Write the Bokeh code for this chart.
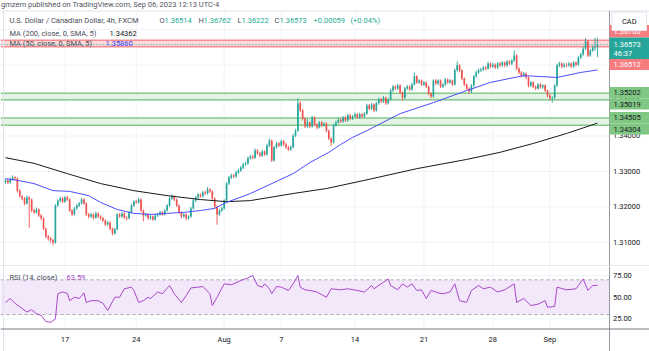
from bokeh.plotting import figure
from bokeh.layouts import column
from bokeh.models import ColumnDataSource, Range1d
from bokeh.embed import file_html
from bokeh.resources import INLINE
from bokeh.core.properties import value

# ---------------- data (USD/CAD, 4h bars, FXCM) ----------------
first_open = 1.3270
closes = [
    1.3275, 1.3269, 1.3277, 1.3283, 1.3280, 1.3246, 1.3230, 1.3224, 1.3210, 1.3227,
    1.3221, 1.3190, 1.3185, 1.3193, 1.3176, 1.3168, 1.3139, 1.3117, 1.3111, 1.3106,
    1.3100, 1.3204, 1.3218, 1.3224, 1.3215, 1.3227, 1.3221, 1.3190, 1.3179, 1.3196,
    1.3204, 1.3210, 1.3221, 1.3210, 1.3179, 1.3173, 1.3179, 1.3170, 1.3182, 1.3173,
    1.3168, 1.3162, 1.3151, 1.3156, 1.3139, 1.3125, 1.3137, 1.3179, 1.3173, 1.3182,
    1.3170, 1.3168, 1.3185, 1.3204, 1.3215, 1.3213, 1.3221, 1.3190, 1.3176, 1.3179,
    1.3168, 1.3173, 1.3165, 1.3176, 1.3179, 1.3185, 1.3179, 1.3190, 1.3204, 1.3224,
    1.3230, 1.3221, 1.3204, 1.3185, 1.3173, 1.3179, 1.3168, 1.3173, 1.3196, 1.3218,
    1.3227, 1.3235, 1.3230, 1.3241, 1.3238, 1.3249, 1.3244, 1.3224, 1.3201, 1.3179,
    1.3190, 1.3196, 1.3218, 1.3266, 1.3283, 1.3289, 1.3286, 1.3297, 1.3303, 1.3311,
    1.3320, 1.3323, 1.3337, 1.3342, 1.3339, 1.3359, 1.3351, 1.3345, 1.3356, 1.3348,
    1.3373, 1.3387, 1.3331, 1.3368, 1.3379, 1.3373, 1.3385, 1.3376, 1.3368, 1.3362,
    1.3368, 1.3401, 1.3415, 1.3492, 1.3472, 1.3449, 1.3427, 1.3438, 1.3427, 1.3452,
    1.3432, 1.3424, 1.3438, 1.3430, 1.3435, 1.3415, 1.3393, 1.3382, 1.3430, 1.3438,
    1.3446, 1.3441, 1.3452, 1.3444, 1.3458, 1.3449, 1.3455, 1.3461, 1.3452, 1.3461,
    1.3455, 1.3463, 1.3486, 1.3477, 1.3489, 1.3472, 1.3492, 1.3503, 1.3497, 1.3508,
    1.3492, 1.3503, 1.3528, 1.3539, 1.3534, 1.3542, 1.3523, 1.3508, 1.3534, 1.3539,
    1.3531, 1.3545, 1.3568, 1.3551, 1.3556, 1.3545, 1.3551, 1.3539, 1.3520, 1.3511,
    1.3556, 1.3548, 1.3556, 1.3539, 1.3545, 1.3559, 1.3551, 1.3556, 1.3545, 1.3585,
    1.3599, 1.3585, 1.3562, 1.3545, 1.3534, 1.3525, 1.3542, 1.3568, 1.3579, 1.3585,
    1.3587, 1.3593, 1.3590, 1.3604, 1.3596, 1.3601, 1.3593, 1.3604, 1.3599, 1.3607,
    1.3599, 1.3610, 1.3604, 1.3613, 1.3627, 1.3590, 1.3579, 1.3570, 1.3576, 1.3565,
    1.3542, 1.3551, 1.3539, 1.3534, 1.3545, 1.3537, 1.3542, 1.3528, 1.3514, 1.3506,
    1.3508, 1.3542, 1.3599, 1.3604, 1.3596, 1.3601, 1.3599, 1.3604, 1.3596, 1.3607,
    1.3601, 1.3621, 1.3630, 1.3646, 1.3666, 1.3627, 1.3641, 1.3649, 1.36514, 1.36573,
]
highs = [
    1.3280, 1.3279, 1.3283, 1.3289, 1.3287, 1.3284, 1.3250, 1.3234, 1.3228, 1.3232,
    1.3230, 1.3224, 1.3195, 1.3198, 1.3196, 1.3180, 1.3171, 1.3142, 1.3121, 1.3116,
    1.3110, 1.3208, 1.3222, 1.3229, 1.3228, 1.3231, 1.3232, 1.3224, 1.3194, 1.3200,
    1.3208, 1.3214, 1.3226, 1.3225, 1.3213, 1.3183, 1.3184, 1.3182, 1.3187, 1.3185,
    1.3177, 1.3172, 1.3165, 1.3160, 1.3159, 1.3142, 1.3141, 1.3183, 1.3183, 1.3186,
    1.3185, 1.3174, 1.3189, 1.3208, 1.3219, 1.3220, 1.3226, 1.3224, 1.3193, 1.3183,
    1.3182, 1.3177, 1.3176, 1.3180, 1.3183, 1.3189, 1.3188, 1.3194, 1.3208, 1.3229,
    1.3236, 1.3233, 1.3224, 1.3207, 1.3188, 1.3183, 1.3182, 1.3177, 1.3200, 1.3222,
    1.3231, 1.3239, 1.3238, 1.3245, 1.3246, 1.3256, 1.3253, 1.3247, 1.3227, 1.3204,
    1.3194, 1.3200, 1.3222, 1.3270, 1.3288, 1.3294, 1.3293, 1.3302, 1.3308, 1.3316,
    1.3325, 1.3328, 1.3342, 1.3347, 1.3346, 1.3365, 1.3363, 1.3355, 1.3361, 1.3360,
    1.3378, 1.3393, 1.3390, 1.3372, 1.3384, 1.3383, 1.3390, 1.3389, 1.3380, 1.3372,
    1.3373, 1.3406, 1.3420, 1.3506, 1.3498, 1.3476, 1.3452, 1.3448, 1.3441, 1.3457,
    1.3455, 1.3436, 1.3442, 1.3442, 1.3439, 1.3438, 1.3418, 1.3396, 1.3435, 1.3443,
    1.3451, 1.3450, 1.3456, 1.3456, 1.3463, 1.3462, 1.3459, 1.3466, 1.3465, 1.3466,
    1.3465, 1.3467, 1.3491, 1.3490, 1.3494, 1.3492, 1.3497, 1.3508, 1.3507, 1.3513,
    1.3511, 1.3507, 1.3533, 1.3544, 1.3543, 1.3547, 1.3546, 1.3526, 1.3538, 1.3544,
    1.3543, 1.3550, 1.3578, 1.3571, 1.3560, 1.3559, 1.3555, 1.3554, 1.3542, 1.3523,
    1.3560, 1.3560, 1.3560, 1.3559, 1.3549, 1.3563, 1.3562, 1.3560, 1.3559, 1.3590,
    1.3610, 1.3602, 1.3588, 1.3565, 1.3548, 1.3537, 1.3546, 1.3572, 1.3584, 1.3590,
    1.3592, 1.3598, 1.3597, 1.3609, 1.3607, 1.3606, 1.3605, 1.3608, 1.3608, 1.3611,
    1.3610, 1.3614, 1.3613, 1.3617, 1.3641, 1.3631, 1.3593, 1.3583, 1.3580, 1.3579,
    1.3568, 1.3555, 1.3554, 1.3543, 1.3549, 1.3549, 1.3546, 1.3545, 1.3531, 1.3518,
    1.3512, 1.3546, 1.3604, 1.3609, 1.3608, 1.3606, 1.3605, 1.3608, 1.3607, 1.3611,
    1.3610, 1.3625, 1.3634, 1.3651, 1.3676, 1.3669, 1.3645, 1.3655, 1.3677, 1.36762,
]
lows = [
    1.3266, 1.3265, 1.3266, 1.3274, 1.3276, 1.3241, 1.3226, 1.3219, 1.3205, 1.3207,
    1.3142, 1.3185, 1.3180, 1.3181, 1.3172, 1.3163, 1.3135, 1.3112, 1.3105, 1.3100,
    1.3092, 1.3097, 1.3200, 1.3213, 1.3211, 1.3212, 1.3217, 1.3186, 1.3174, 1.3176,
    1.3192, 1.3200, 1.3207, 1.3206, 1.3175, 1.3168, 1.3169, 1.3165, 1.3167, 1.3169,
    1.3163, 1.3158, 1.3146, 1.3147, 1.3134, 1.3120, 1.3122, 1.3134, 1.3169, 1.3170,
    1.3166, 1.3162, 1.3165, 1.3182, 1.3200, 1.3209, 1.3210, 1.3186, 1.3160, 1.3172,
    1.3164, 1.3164, 1.3161, 1.3162, 1.3172, 1.3176, 1.3175, 1.3176, 1.3187, 1.3201,
    1.3220, 1.3217, 1.3200, 1.3181, 1.3168, 1.3170, 1.3163, 1.3164, 1.3170, 1.3193,
    1.3214, 1.3223, 1.3226, 1.3227, 1.3234, 1.3235, 1.3240, 1.3220, 1.3197, 1.3150,
    1.3175, 1.3186, 1.3193, 1.3215, 1.3262, 1.3279, 1.3281, 1.3282, 1.3293, 1.3299,
    1.3307, 1.3316, 1.3319, 1.3333, 1.3334, 1.3335, 1.3347, 1.3340, 1.3341, 1.3344,
    1.3345, 1.3369, 1.3327, 1.3328, 1.3364, 1.3369, 1.3370, 1.3372, 1.3364, 1.3358,
    1.3358, 1.3365, 1.3397, 1.3412, 1.3467, 1.3444, 1.3422, 1.3423, 1.3422, 1.3424,
    1.3428, 1.3419, 1.3421, 1.3425, 1.3426, 1.3410, 1.3388, 1.3372, 1.3379, 1.3426,
    1.3434, 1.3437, 1.3437, 1.3440, 1.3440, 1.3445, 1.3445, 1.3451, 1.3448, 1.3448,
    1.3451, 1.3451, 1.3460, 1.3472, 1.3473, 1.3467, 1.3469, 1.3488, 1.3493, 1.3493,
    1.3487, 1.3489, 1.3500, 1.3524, 1.3530, 1.3530, 1.3518, 1.3500, 1.3505, 1.3530,
    1.3527, 1.3528, 1.3542, 1.3547, 1.3547, 1.3541, 1.3541, 1.3535, 1.3515, 1.3506,
    1.3508, 1.3544, 1.3544, 1.3535, 1.3535, 1.3541, 1.3547, 1.3547, 1.3541, 1.3542,
    1.3581, 1.3580, 1.3557, 1.3540, 1.3529, 1.3520, 1.3521, 1.3539, 1.3564, 1.3575,
    1.3580, 1.3583, 1.3585, 1.3586, 1.3591, 1.3592, 1.3589, 1.3589, 1.3594, 1.3595,
    1.3594, 1.3595, 1.3600, 1.3600, 1.3609, 1.3585, 1.3574, 1.3565, 1.3566, 1.3560,
    1.3537, 1.3538, 1.3535, 1.3529, 1.3530, 1.3533, 1.3533, 1.3524, 1.3509, 1.3500,
    1.3494, 1.3504, 1.3538, 1.3594, 1.3591, 1.3592, 1.3594, 1.3595, 1.3592, 1.3592,
    1.3597, 1.3598, 1.3617, 1.3626, 1.3642, 1.3622, 1.3623, 1.3637, 1.3640, 1.36222,
]

ma200_bars = [0, 12, 26, 40, 54, 68, 82, 93, 103, 121, 135, 151, 173, 194, 208, 222, 236, 249]
ma200_vals = [1.3339, 1.3323, 1.3294, 1.3266, 1.3246, 1.3232, 1.3221, 1.3215, 1.3218,
              1.3238, 1.3252, 1.3275, 1.3308, 1.3334, 1.3354, 1.3379, 1.3407, 1.34362]

ma50_bars = [0, 5, 12, 20, 27, 35, 40, 47, 54, 61, 68, 75, 82, 88, 93, 103, 113, 121,
             128, 136, 141, 146, 152, 166, 180, 194, 204, 218, 232, 242, 249]
ma50_vals = [1.3280, 1.3275, 1.3266, 1.3246, 1.3244, 1.3232, 1.3213, 1.3193, 1.3182,
             1.3179, 1.3182, 1.3185, 1.3190, 1.3196, 1.3213, 1.3238, 1.3269, 1.3294,
             1.3325, 1.3354, 1.3376, 1.3396, 1.3415, 1.3463, 1.3494, 1.3528, 1.3551,
             1.3570, 1.3565, 1.3579, 1.35860]

rsi_bars = [0, 2, 4, 7, 9, 11, 13, 15, 17, 19, 21, 22, 24, 26, 27, 29, 31, 33, 34, 36,
            39, 41, 43, 46, 48, 50, 53, 54, 56, 58, 60, 61, 64, 66, 69, 71, 74, 76, 78, 81,
            83, 86, 87, 89, 92, 95, 99, 102, 104, 106, 108, 109, 111, 112, 114, 116, 119, 121, 123, 124,
            126, 128, 131, 135, 137, 141, 144, 148, 151, 154, 155, 159, 161, 162, 165, 167, 169, 171, 173, 175,
            177, 179, 182, 184, 187, 189, 191, 194, 196, 199, 201, 204, 207, 210, 214, 215, 218, 221, 224, 227,
            228, 231, 232, 236, 240, 241, 243, 245, 247, 249]
rsi_vals = [44, 48.5, 43, 37, 33, 35.5, 31, 29, 22, 21, 25, 54, 56, 54.5, 46, 50, 48.5, 55, 44, 46,
            46, 43, 34.6, 50, 50, 59.7, 61.6, 57.8, 44, 46, 50, 48.5, 56, 54, 63.5, 54, 44, 51.8, 60.7, 61.6,
            62.3, 54, 40.4, 50, 65.4, 64.3, 69.2, 72.3, 75, 63.5, 61.6, 65.4, 59.7, 54, 62.3, 61.6, 57.8, 65.4, 75, 61.6,
            58.5, 57.8, 56, 50, 59.7, 58.5, 59.7, 57.8, 56, 63.5, 59.7, 67.3, 71, 63.5, 58.5, 65.4, 61.6, 65.4, 57.8, 58.5,
            48.5, 57.8, 55, 54, 56, 65.4, 46, 44, 57.8, 63.5, 59.7, 61.6, 56, 58.5, 65.4, 44, 48.5, 40.4, 42, 46,
            38.5, 39.2, 61.6, 58.5, 59.7, 63.5, 71, 57.8, 63.5, 63.59]

red_zone = (1.36512, 1.36700)
green_zones = [(1.35019, 1.35202), (1.34304, 1.34505)]

price_ticks = [1.31, 1.32, 1.33, 1.34, 1.35, 1.36]
price_grid = [1.31, 1.32, 1.33, 1.34, 1.35, 1.36, 1.37]
rsi_ticks = [75, 50, 25]
rsi_band = (30, 70)
date_tick_bars = [25, 55, 92, 116, 147, 176, 205, 229]
date_tick_labels = ["17", "24", "Aug", "7", "14", "21", "28", "Sep"]

# ---------------- layout helpers (pixel -> data) ----------------
W, H1, H2 = 649, 266, 85
X0, X1 = -2.1, 270.9
PY_TOP, PY_BOT = 1.378169, 1.303239
RY_TOP, RY_BOT = 85.4, -12.6


def xd(px):
    return X0 + px * (X1 - X0) / W


def yd(py):
    return PY_TOP - py * (PY_TOP - PY_BOT) / H1


def rd(py):
    return RY_TOP - (py - H1) * (RY_TOP - RY_BOT) / H2


AXIS_X = xd(609)
FONT = value("Roboto")
UP, DOWN = "#26a69a", "#ef5350"
TXT, LBL = "#131722", "#4a4e59"
GRID = "#f0f3fa"


def add_texts(p, xs, ys, texts, colors, size="7.5px", align="left"):
    src = ColumnDataSource(dict(x=xs, y=ys, text=texts, color=colors))
    p.text(x="x", y="y", text="text", text_color="color", source=src,
           text_font=FONT, text_font_size=size, text_align=align,
           text_baseline="middle")


def mkfig(h, yr):
    f = figure(width=W, height=h, x_range=Range1d(X0, X1), y_range=yr,
               output_backend="svg", toolbar_location=None, min_border=0,
               x_axis_type=None, y_axis_type=None)
    f.outline_line_color = None
    f.background_fill_color = "white"
    f.border_fill_color = "white"
    return f


# ---------------- main price panel ----------------
p1 = mkfig(H1, Range1d(PY_BOT, PY_TOP))

p1.segment(x0=date_tick_bars, y0=yd(10.5), x1=date_tick_bars, y1=yd(266), color=GRID, line_width=1)
p1.segment(x0=X0, y0=price_grid, x1=AXIS_X, y1=price_grid, color=GRID, line_width=1)

for lo, hi in green_zones:
    p1.quad(left=X0, right=AXIS_X, bottom=lo, top=hi, fill_color="#e6f4e7", line_color=None)
    p1.segment(x0=X0, y0=[lo, hi], x1=AXIS_X, y1=[lo, hi], color="#86c98b", line_width=1.5)
p1.quad(left=X0, right=AXIS_X, bottom=red_zone[0], top=red_zone[1], fill_color="#fadada", line_color=None)
p1.segment(x0=X0, y0=list(red_zone), x1=AXIS_X, y1=list(red_zone), color="#f58d90", line_width=1.5)

idx = list(range(len(closes)))
opens = [first_open] + closes[:-1]
col = [UP if c >= o else DOWN for o, c in zip(opens, closes)]
csrc = ColumnDataSource(dict(
    i=idx, high=highs, low=lows,
    top=[max(o, c) for o, c in zip(opens, closes)],
    bottom=[min(o, c) for o, c in zip(opens, closes)],
    color=col))
p1.segment(x0="i", y0="low", x1="i", y1="high", color="color", line_width=0.9, source=csrc)
p1.vbar(x="i", width=0.7, top="top", bottom="bottom", fill_color="color", line_color=None, source=csrc)

p1.line(ma200_bars, ma200_vals, color="#1a1a1a", line_width=1)
p1.line(ma50_bars, ma50_vals, color="#4c4cff", line_width=1)

last = closes[-1]
p1.segment(x0=X0, y0=last, x1=AXIS_X, y1=last, color=UP, line_width=1, line_dash="1 2")

# frame lines
p1.segment(x0=X0, y0=yd(10.5), x1=X1, y1=yd(10.5), color="#e0e3eb", line_width=1)
p1.segment(x0=xd(3), y0=yd(10.5), x1=xd(3), y1=yd(266), color="#e0e3eb", line_width=1)
p1.segment(x0=AXIS_X, y0=yd(10.5), x1=AXIS_X, y1=yd(266), color="#9598a1", line_width=1)
p1.segment(x0=X0, y0=yd(265.5), x1=X1, y1=yd(265.5), color="#d1d4dc", line_width=1)

# price axis labels
add_texts(p1, [xd(612.5)] * len(price_ticks), price_ticks,
          ["%.5f" % t for t in price_ticks], [TXT] * len(price_ticks))

# price tags on the axis (px boxes, shifted to avoid overlap)
tags = [
    ("%.5f" % red_zone[1], 24.5, 37, "#f77c80", "white"),
    ("%.5f" % red_zone[0], 58.5, 69.5, "#f77c80", "white"),
    ("%.5f" % green_zones[0][1], 86.5, 98, "#81c784", TXT),
    ("%.5f" % green_zones[0][0], 98, 109, "#81c784", TXT),
    ("%.5f" % green_zones[1][1], 111.5, 123, "#81c784", TXT),
    ("%.5f" % green_zones[1][0], 123, 134, "#81c784", TXT),
]
for text, t, b, fc, tc in tags:
    p1.quad(left=AXIS_X, right=X1, top=yd(t), bottom=yd(b), fill_color=fc, line_color=None)
    add_texts(p1, [xd(613)], [yd((t + b) / 2)], [text], [tc])
# current price tag
p1.quad(left=AXIS_X, right=X1, top=yd(37), bottom=yd(58.5), fill_color=UP, line_color=None)
add_texts(p1, [xd(613), xd(613)], [yd(43.5), yd(52.5)], ["%.5f" % last, "46:37"], ["white", "white"])

# CAD button
p1.quad(left=xd(611.5), right=xd(646), top=yd(11.5), bottom=yd(30), fill_color="white", line_color="#e0e3eb", line_width=1)
add_texts(p1, [xd(628.75)], [yd(20.5)], ["CAD"], [TXT], align="center")

# header texts
chg = closes[-1] - closes[-2]
pct = chg / closes[-2] * 100
VAL = "#22ab94"
add_texts(p1, [xd(0.5)], [yd(3.5)],
          ["gmzern published on TradingView.com, Sep 06, 2023 12:13 UTC-4"], ["#50535e"])
add_texts(p1,
          [xd(9), xd(159), xd(164), xd(198), xd(203), xd(237), xd(241), xd(274), xd(279), xd(313), xd(350)],
          [yd(20)] * 11,
          ["U.S. Dollar / Canadian Dollar, 4h, FXCM", "O", "%.5f" % opens[-1], "H", "%.5f" % highs[-1],
           "L", "%.5f" % lows[-1], "C", "%.5f" % closes[-1], "%+.5f" % chg, "(%+.2f%%)" % pct],
          [LBL, LBL, VAL, LBL, VAL, LBL, VAL, LBL, VAL, VAL, VAL])
add_texts(p1, [xd(9), xd(109)], [yd(32.7)] * 2,
          ["MA (200, close, 0, SMA, 5)", "%.5f" % ma200_vals[-1]], [LBL, TXT])
add_texts(p1, [xd(9), xd(105)], [yd(43.3)] * 2,
          ["MA (50, close, 0, SMA, 5)", "%.5f" % ma50_vals[-1]], [LBL, "#3d3dff"])

# ---------------- RSI panel ----------------
p2 = mkfig(H2, Range1d(RY_BOT, RY_TOP))
p2.segment(x0=date_tick_bars, y0=rd(266), x1=date_tick_bars, y1=rd(328), color=GRID, line_width=1)
p2.segment(x0=X0, y0=rsi_ticks, x1=AXIS_X, y1=rsi_ticks, color=GRID, line_width=1)
p2.quad(left=X0, right=AXIS_X, bottom=rsi_band[0], top=rsi_band[1], fill_color="#f3e8fa", line_color=None)
p2.segment(x0=X0, y0=list(rsi_band), x1=AXIS_X, y1=list(rsi_band), color="#a3a6af", line_width=1, line_dash="3 3")
p2.line(rsi_bars, rsi_vals, color="#a848c8", line_width=1)

p2.segment(x0=AXIS_X, y0=rd(266), x1=AXIS_X, y1=rd(351), color="#9598a1", line_width=1)
p2.segment(x0=xd(3), y0=rd(266), x1=xd(3), y1=rd(351), color="#e0e3eb", line_width=1)
p2.segment(x0=X0, y0=rd(328.5), x1=X1, y1=rd(328.5), color="#787b86", line_width=1)

add_texts(p2, [xd(612.5)] * 3, rsi_ticks, ["%.2f" % t for t in rsi_ticks], [TXT] * 3)
add_texts(p2, date_tick_bars, [rd(338.5)] * len(date_tick_bars), date_tick_labels,
          [TXT] * len(date_tick_bars), align="center")
add_texts(p2, [xd(9), xd(66)], [rd(276.5)] * 2,
          ["RSI (14, close)", "%.2f" % rsi_vals[-1]], [LBL, "#a848c8"])

layout = column(p1, p2, spacing=0)
open("out.html", "w").write(file_html(layout, INLINE))
